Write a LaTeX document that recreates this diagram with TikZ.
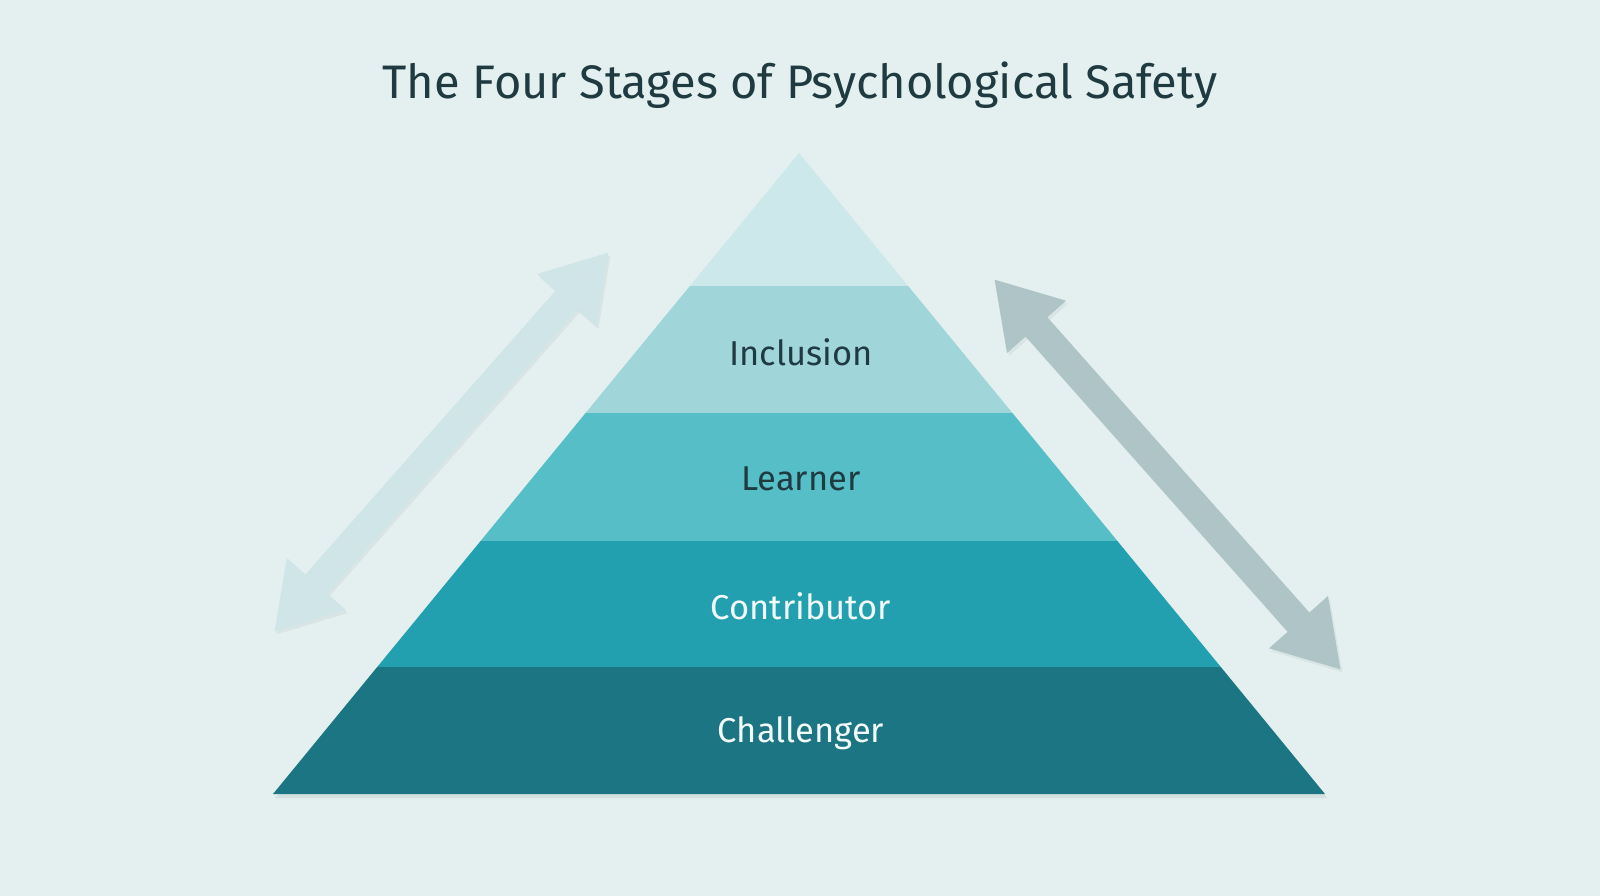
\documentclass[tikz,border=0pt]{standalone}
\usepackage{fontspec}
\setmainfont{Fira Sans}
\usetikzlibrary{arrows.meta,calc}
\definecolor{bg}{HTML}{E3F0EF}
\definecolor{bandA}{HTML}{CDE8EA}
\definecolor{bandB}{HTML}{A0D5DA}
\definecolor{bandC}{HTML}{55BEC7}
\definecolor{bandD}{HTML}{23A0B0}
\definecolor{bandE}{HTML}{1B7582}
\definecolor{titlecol}{HTML}{1F3A40}
\definecolor{lightcol}{HTML}{F2FAFA}
\definecolor{arrowL}{HTML}{CFE5E7}
\definecolor{arrowR}{HTML}{AFC4C6}
\tikzset{
  titletext/.style={font=\fontsize{47}{54}\selectfont, text=titlecol, inner sep=0pt},
  darklabel/.style={font=\fontsize{34.5}{40}\selectfont, text=titlecol, inner sep=0pt},
  lightlabel/.style={font=\fontsize{34.5}{40}\selectfont, text=lightcol, inner sep=0pt},
  bigarrow/.style={line width=29pt, {Triangle[width=74pt,length=64pt]}-{Triangle[width=74pt,length=64pt]}},
  shadowarrow/.style={bigarrow, draw=black, opacity=0.045}
}
\begin{document}
\begin{tikzpicture}[x=1pt,y=-1pt]
\useasboundingbox (0,0) rectangle (1600,896);
\fill[bg] (0,0) rectangle (1600,896);
% title
\node[titletext] (title) at (800,85) {The Four Stages of Psychological Safety};
% pyramid geometry
\coordinate (apex) at (799,153);
\coordinate (bl) at (273,794);
\coordinate (br) at (1325,794);
% shadow of pyramid
\fill[black, opacity=0.06] ($(bl)+(2,4)$) -- ($(br)+(2,4)$) -- ($(apex)+(2,4)$) -- cycle;
% bands
\fill[bandA] (apex) -- (908.1,286) -- (689.9,286) -- cycle;
\fill[bandB] (689.9,286) -- (908.1,286) -- (1012.4,413) -- (585.6,413) -- cycle;
\fill[bandC] (585.6,413) -- (1012.4,413) -- (1117.4,541) -- (480.6,541) -- cycle;
\fill[bandD] (480.6,541) -- (1117.4,541) -- (1220.8,667) -- (377.2,667) -- cycle;
\fill[bandE] (377.2,667) -- (1220.8,667) -- (br) -- (bl) -- cycle;
% labels
\node[darklabel] (inclusion) at (801,352) {Inclusion};
\node[darklabel] (learner) at (801,479) {Learner};
\node[lightlabel] (contributor) at (801,606) {Contributor};
\node[lightlabel] (challenger) at (801,733) {Challenger};
% arrows
\coordinate (la) at (609,252);
\coordinate (lb) at (274,632);
\coordinate (ra) at (994,279);
\coordinate (rb) at (1341,670);
\draw[shadowarrow] ($(la)+(2,3)$) -- ($(lb)+(2,3)$);
\draw[shadowarrow] ($(ra)+(2,3)$) -- ($(rb)+(2,3)$);
\draw[bigarrow, draw=arrowL, fill=arrowL] (la) -- (lb);
\draw[bigarrow, draw=arrowR, fill=arrowR] (ra) -- (rb);
\end{tikzpicture}
\end{document}
